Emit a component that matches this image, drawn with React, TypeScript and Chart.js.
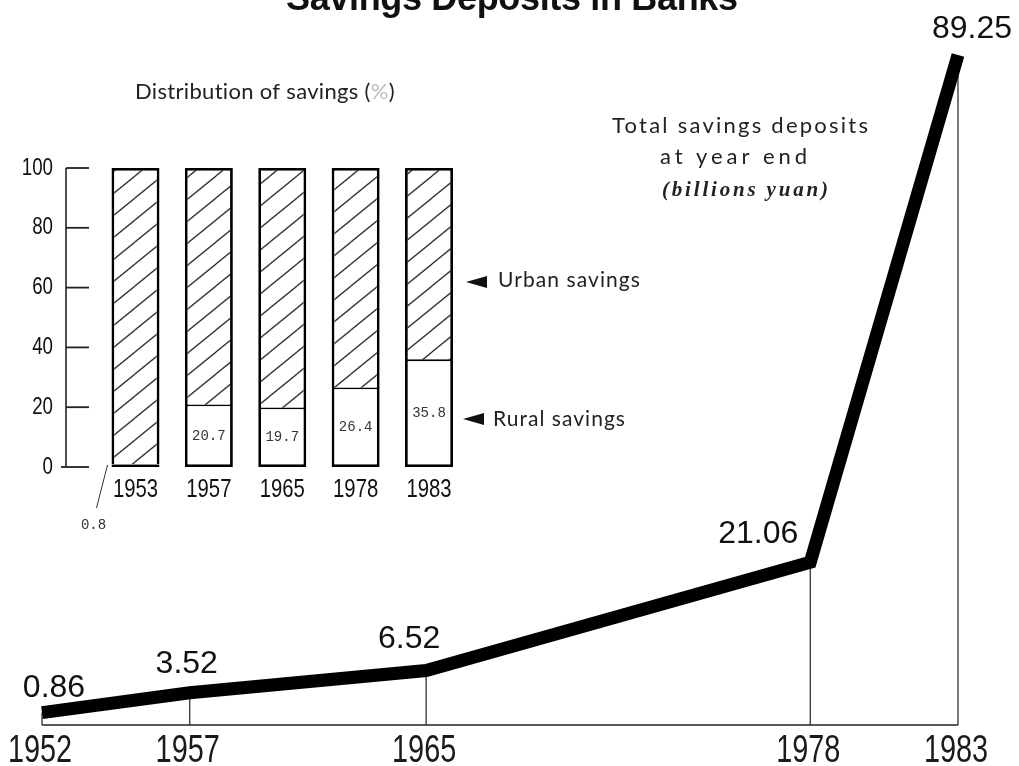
import React, { useEffect, useRef } from 'react';
import { Chart, registerables } from 'chart.js';

Chart.register(...registerables);

// ---- Data ----
const years = [1952, 1957, 1965, 1978, 1983];
const totalDeposits = [0.86, 3.52, 6.52, 21.06, 89.25];
const depositLabels = ['0.86', '3.52', '6.52', '21.06', '89.25'];

const distYears = ['1953', '1957', '1965', '1978', '1983'];
const ruralShare = [0.8, 20.7, 19.7, 26.4, 35.8];
const urbanShare = [99.2, 79.3, 80.3, 73.6, 64.2];
const shareTicks = [0, 20, 40, 60, 80, 100];

// ---- Layout / style constants ----
const W = 1019;
const H = 766;
const labelOffsets = [
  [12, -16],
  [-3, -20],
  [-17, -22],
  [-52, -19],
  [14, -17],
];

function fitText(ctx: CanvasRenderingContext2D, parts: [string, string][], x: number, y: number, width: number, font: string) {
  ctx.save();
  ctx.font = font;
  ctx.textAlign = 'left';
  ctx.textBaseline = 'alphabetic';
  (ctx as any).letterSpacing = '0px';
  const full = parts.map((p) => p[0]).join('');
  const natural = ctx.measureText(full).width;
  const n = full.length;
  const sp = n > 1 ? (width - natural) / (n - 1) : 0;
  (ctx as any).letterSpacing = sp.toFixed(2) + 'px';
  let cx = x;
  for (const [t, c] of parts) {
    ctx.fillStyle = c;
    ctx.fillText(t, cx, y);
    cx += ctx.measureText(t).width;
  }
  ctx.restore();
}

function narrowText(
  ctx: CanvasRenderingContext2D,
  text: string,
  x: number,
  y: number,
  size: number,
  align: CanvasTextAlign,
  baseline: CanvasTextBaseline,
  sx = 0.78,
  color = '#111'
) {
  ctx.save();
  ctx.translate(x, y);
  ctx.scale(sx, 1);
  ctx.font = `${size}px "Liberation Sans", Arial, sans-serif`;
  ctx.textAlign = align;
  ctx.textBaseline = baseline;
  ctx.fillStyle = color;
  ctx.fillText(text, 0, 0);
  ctx.restore();
}

function makeHatch(): CanvasPattern | string {
  const tw = 27;
  const th = 22;
  const c = document.createElement('canvas');
  c.width = tw;
  c.height = th;
  const g = c.getContext('2d');
  if (!g) return '#fff';
  g.fillStyle = '#fff';
  g.fillRect(0, 0, tw, th);
  g.strokeStyle = '#3a3a3a';
  g.lineWidth = 1.4;
  for (let i = -1; i <= 1; i++) {
    for (let j = -1; j <= 1; j++) {
      g.beginPath();
      g.moveTo(i * tw, th + j * th);
      g.lineTo(tw + i * tw, j * th);
      g.stroke();
    }
  }
  const p = g.createPattern(c, 'repeat');
  return p || '#fff';
}

const FUTURA = 'Lato, "DejaVu Sans", sans-serif';

export default function App() {
  const mainRef = useRef<HTMLCanvasElement | null>(null);
  const insetRef = useRef<HTMLCanvasElement | null>(null);

  useEffect(() => {
    if (!mainRef.current || !insetRef.current) return;

    const mainPlugin = {
      id: 'mainDecor',
      beforeDatasetsDraw(chart: any) {
        const ctx: CanvasRenderingContext2D = chart.ctx;
        const xs = chart.scales.x;
        const ys = chart.scales.y;
        const baseY = ys.getPixelForValue(0) + 6;
        ctx.save();
        ctx.strokeStyle = '#222';
        ctx.lineWidth = 1.6;
        ctx.beginPath();
        ctx.moveTo(xs.getPixelForValue(years[0]), baseY);
        ctx.lineTo(xs.getPixelForValue(years[years.length - 1]), baseY);
        ctx.stroke();
        ctx.lineWidth = 1.2;
        years.forEach((yr, i) => {
          const px = xs.getPixelForValue(yr);
          ctx.beginPath();
          ctx.moveTo(px, baseY);
          ctx.lineTo(px, ys.getPixelForValue(totalDeposits[i]));
          ctx.stroke();
        });
        ctx.restore();
      },
      afterDatasetsDraw(chart: any) {
        const ctx: CanvasRenderingContext2D = chart.ctx;
        const xs = chart.scales.x;
        const ys = chart.scales.y;
        // year labels
        years.forEach((yr) => {
          narrowText(ctx, String(yr), xs.getPixelForValue(yr) - 2, 762, 38, 'center', 'alphabetic', 0.76, '#1a1a1a');
        });
        // value labels
        ctx.save();
        ctx.font = '32px "Liberation Sans", Arial, sans-serif';
        ctx.fillStyle = '#111';
        ctx.textAlign = 'center';
        ctx.textBaseline = 'alphabetic';
        years.forEach((yr, i) => {
          const px = xs.getPixelForValue(yr) + labelOffsets[i][0];
          const py = ys.getPixelForValue(totalDeposits[i]) + labelOffsets[i][1];
          ctx.fillText(depositLabels[i], px, py);
        });
        ctx.restore();
        // title (partly cut off at the top, as in the source)
        fitText(ctx, [['Savings Deposits in Banks', '#111']], 286, 10, 452, 'bold 36px "Liberation Sans", Arial, sans-serif');
        // axis caption
        fitText(ctx, [['Total savings deposits', '#222']], 612, 133, 256, `22px ${FUTURA}`);
        fitText(ctx, [['at year end', '#222']], 660, 164, 147, `22px ${FUTURA}`);
        fitText(ctx, [['(billions yuan)', '#222']], 662, 196, 166, 'italic bold 21px "Liberation Serif", "Times New Roman", serif');
      },
    };

    const main = new Chart(mainRef.current, {
      type: 'line',
      data: {
        datasets: [
          {
            label: 'Total savings deposits at year end (billions yuan)',
            data: years.map((yr, i) => ({ x: yr, y: totalDeposits[i] })),
            borderColor: '#000',
            backgroundColor: '#000',
            borderWidth: 13,
            pointRadius: 0,
            tension: 0,
            borderJoinStyle: 'miter',
            borderCapStyle: 'butt',
            clip: false,
          } as any,
        ],
      },
      options: {
        responsive: false,
        animation: false,
        events: [],
        layout: { padding: { left: 42, right: W - 958, top: 55, bottom: H - 719 } },
        scales: {
          x: { type: 'linear', min: years[0], max: years[years.length - 1], display: false },
          y: { type: 'linear', min: 0, max: totalDeposits[totalDeposits.length - 1], display: false },
        },
        plugins: { legend: { display: false }, tooltip: { enabled: false }, title: { display: false } },
      },
      plugins: [mainPlugin],
    });

    const hatch = makeHatch();

    const insetPlugin = {
      id: 'insetDecor',
      afterDatasetsDraw(chart: any) {
        const ctx: CanvasRenderingContext2D = chart.ctx;
        const xs = chart.scales.x;
        const ys = chart.scales.y;
        const axisX = 66;
        ctx.save();
        ctx.strokeStyle = '#222';
        ctx.lineWidth = 1.6;
        ctx.beginPath();
        ctx.moveTo(axisX, ys.getPixelForValue(100));
        ctx.lineTo(axisX, ys.getPixelForValue(0));
        ctx.stroke();
        ctx.lineWidth = 1.8;
        shareTicks.forEach((t) => {
          const py = ys.getPixelForValue(t);
          ctx.beginPath();
          ctx.moveTo(t === 0 ? axisX - 5 : axisX, py);
          ctx.lineTo(axisX + 23, py);
          ctx.stroke();
          narrowText(ctx, String(t), 53, py, 24, 'right', 'middle', 0.78, '#111');
        });
        ctx.restore();

        // category labels
        distYears.forEach((lab, i) => {
          narrowText(ctx, lab, xs.getPixelForValue(i), 497, 26, 'center', 'alphabetic', 0.78, '#111');
        });

        // rural values
        const meta = chart.getDatasetMeta(0);
        ctx.save();
        ctx.font = '14px "Liberation Mono", "DejaVu Sans Mono", monospace';
        ctx.fillStyle = '#333';
        ctx.textAlign = 'center';
        ctx.textBaseline = 'middle';
        meta.data.forEach((bar: any, i: number) => {
          if (ruralShare[i] >= 5) {
            ctx.fillText(ruralShare[i].toFixed(1), bar.x, (bar.y + bar.base) / 2);
          } else {
            const left = bar.x - bar.width / 2;
            ctx.strokeStyle = '#333';
            ctx.lineWidth = 1;
            ctx.beginPath();
            ctx.moveTo(left - 4, bar.base - 2);
            ctx.lineTo(left - 15, bar.base + 41);
            ctx.stroke();
            ctx.fillText(ruralShare[i].toFixed(1), left - 18, bar.base + 58);
          }
        });
        ctx.restore();

        // caption
        fitText(
          ctx,
          [
            ['Distribution of savings (', '#222'],
            ['%', '#bbb'],
            [')', '#222'],
          ],
          135,
          99,
          260,
          `22px ${FUTURA}`
        );

        // legend pointers
        const drawArrow = (tipX: number, cy: number) => {
          ctx.save();
          ctx.fillStyle = '#111';
          ctx.beginPath();
          ctx.moveTo(tipX, cy);
          ctx.lineTo(tipX + 21, cy - 6);
          ctx.lineTo(tipX + 21, cy + 6);
          ctx.closePath();
          ctx.fill();
          ctx.restore();
        };
        drawArrow(466, 282);
        drawArrow(463, 419);
        fitText(ctx, [['Urban savings', '#222']], 498, 287, 142, `21px ${FUTURA}`);
        fitText(ctx, [['Rural savings', '#222']], 493, 426, 132, `21px ${FUTURA}`);
      },
    };

    const inset = new Chart(insetRef.current, {
      type: 'bar',
      data: {
        labels: distYears,
        datasets: [
          {
            label: 'Rural savings',
            data: ruralShare,
            backgroundColor: '#fff',
            borderColor: '#000',
            borderWidth: { top: 1.2, left: 2.8, right: 2.8, bottom: 2.8 },
            borderSkipped: false,
            stack: 's',
          } as any,
          {
            label: 'Urban savings',
            data: urbanShare,
            backgroundColor: hatch,
            borderColor: '#000',
            borderWidth: { top: 2.8, left: 2.8, right: 2.8, bottom: 0.6 },
            borderSkipped: false,
            stack: 's',
          } as any,
        ],
      },
      options: {
        responsive: false,
        animation: false,
        events: [],
        layout: { padding: { left: 98.8, right: W - 465.7, top: 168, bottom: H - 467 } },
        datasets: { bar: { barPercentage: 0.654, categoryPercentage: 1 } } as any,
        scales: {
          x: { stacked: true, display: false },
          y: { stacked: true, min: 0, max: 100, display: false },
        },
        plugins: { legend: { display: false }, tooltip: { enabled: false }, title: { display: false } },
      },
      plugins: [insetPlugin],
    });

    return () => {
      main.destroy();
      inset.destroy();
    };
  }, []);

  return (
    <div style={{ position: 'fixed', left: 0, top: 0, width: W, height: H, background: '#fff', overflow: 'hidden' }}>
      <canvas ref={mainRef} width={W} height={H} style={{ position: 'absolute', left: 0, top: 0, width: W, height: H }} />
      <canvas ref={insetRef} width={W} height={H} style={{ position: 'absolute', left: 0, top: 0, width: W, height: H }} />
    </div>
  );
}
